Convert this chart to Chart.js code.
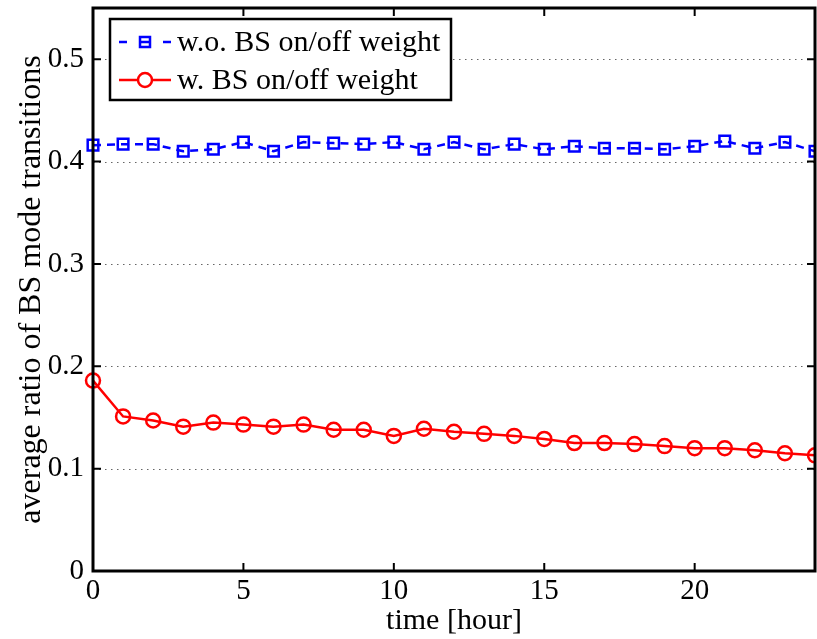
<!DOCTYPE html>
<html>
<head>
<meta charset="utf-8">
<script src="https://cdn.jsdelivr.net/npm/chart.js@4/dist/chart.umd.min.js"></script>
<style>
  html, body { margin: 0; padding: 0; background: #fff; }
  #wrap { width: 817px; height: 639px; }
</style>
</head>
<body>
<div id="wrap"><canvas id="chart" width="817" height="639"></canvas></div>
<script>
// hours 0..24
const hours = [0,1,2,3,4,5,6,7,8,9,10,11,12,13,14,15,16,17,18,19,20,21,22,23,24];
// without BS on/off weight
const woWeight = [0.416,0.417,0.417,0.410,0.412,0.419,0.410,0.419,0.418,0.417,0.419,0.412,0.419,
                  0.412,0.417,0.412,0.415,0.413,0.413,0.412,0.415,0.420,0.413,0.419,0.410];
// with BS on/off weight
const wWeight = [0.186,0.151,0.147,0.141,0.145,0.143,0.141,0.143,0.138,0.138,0.132,0.139,0.136,
                 0.134,0.132,0.129,0.125,0.125,0.124,0.122,0.120,0.120,0.118,0.115,0.113];
const seriesNames = ["w.o. BS on/off weight", "w. BS on/off weight"];
const yTicks = [0, 0.1, 0.2, 0.3, 0.4, 0.5];
const xTicks = [0, 5, 10, 15, 20];

const serif = "'Liberation Serif', 'Times New Roman', serif";
const BLUE = "#0000ff";
const RED = "#ff0000";

// 枠・点線グリッド・内向きの目盛り
const framePlugin = {
  id: "frame",
  beforeDatasetsDraw(chart) {
    const { ctx, chartArea: a, scales: { y } } = chart;
    ctx.save();
    ctx.strokeStyle = "#666";
    ctx.lineWidth = 1.2;
    ctx.setLineDash([1.5, 4.5]);
    yTicks.slice(1).forEach((v) => {
      const py = Math.round(y.getPixelForValue(v)) + 0.5;
      ctx.beginPath();
      ctx.moveTo(a.left, py);
      ctx.lineTo(a.right, py);
      ctx.stroke();
    });
    ctx.restore();
  },
  afterDatasetsDraw(chart) {
    const { ctx, chartArea: a, scales: { x, y } } = chart;
    ctx.save();
    ctx.strokeStyle = "#000";
    ctx.lineWidth = 2;
    const tl = 8;
    yTicks.forEach((v) => {
      const py = y.getPixelForValue(v);
      ctx.beginPath();
      ctx.moveTo(a.left, py); ctx.lineTo(a.left + tl, py);
      ctx.moveTo(a.right, py); ctx.lineTo(a.right - tl, py);
      ctx.stroke();
    });
    xTicks.forEach((v) => {
      const px = x.getPixelForValue(v);
      ctx.beginPath();
      ctx.moveTo(px, a.bottom); ctx.lineTo(px, a.bottom - tl);
      ctx.moveTo(px, a.top); ctx.lineTo(px, a.top + tl);
      ctx.stroke();
    });
    ctx.lineWidth = 3;
    ctx.strokeRect(a.left, a.top, a.right - a.left, a.bottom - a.top);
    ctx.restore();
  },
};

// 凡例（プロット内左上）
const legendPlugin = {
  id: "innerLegend",
  afterDraw(chart) {
    const { ctx } = chart;
    const bx = 110, by = 19, bw = 341, bh = 81;
    ctx.save();
    ctx.fillStyle = "#fff";
    ctx.fillRect(bx, by, bw, bh);
    ctx.strokeStyle = "#000";
    ctx.lineWidth = 2.5;
    ctx.strokeRect(bx, by, bw, bh);

    const rows = [42, 80];
    // blue dashed + square
    ctx.strokeStyle = BLUE;
    ctx.lineWidth = 2.5;
    ctx.beginPath();
    ctx.moveTo(119, rows[0]); ctx.lineTo(127, rows[0]);
    ctx.moveTo(163, rows[0]); ctx.lineTo(171, rows[0]);
    ctx.stroke();
    ctx.strokeRect(140, rows[0] - 5, 10, 10);
    ctx.beginPath();
    ctx.moveTo(140, rows[0]); ctx.lineTo(150, rows[0]);
    ctx.stroke();
    // red solid + circle
    ctx.strokeStyle = RED;
    ctx.beginPath();
    ctx.moveTo(119, rows[1]); ctx.lineTo(171, rows[1]);
    ctx.stroke();
    ctx.fillStyle = "#fff";
    ctx.beginPath();
    ctx.arc(145, rows[1], 7, 0, Math.PI * 2);
    ctx.fill();
    ctx.stroke();

    ctx.fillStyle = "#000";
    ctx.font = "30px " + serif;
    ctx.textBaseline = "middle";
    ctx.fillText(seriesNames[0], 177, rows[0] + 1);
    ctx.fillText(seriesNames[1], 177, rows[1] + 1);
    ctx.restore();
  },
};

new Chart(document.getElementById("chart"), {
  type: "line",
  data: {
    labels: hours,
    datasets: [
      {
        label: seriesNames[0],
        data: hours.map((h, i) => ({ x: h, y: woWeight[i] })),
        borderColor: BLUE,
        borderWidth: 2.5,
        borderDash: [8, 6],
        pointStyle: "rect",
        pointRadius: 7.5,
        pointBorderWidth: 2.5,
        pointBorderColor: BLUE,
        pointBackgroundColor: "rgba(0,0,0,0)",
        fill: false,
        tension: 0,
        clip: { left: 10, top: 0, right: 0, bottom: 0 },
      },
      {
        label: seriesNames[1],
        data: hours.map((h, i) => ({ x: h, y: wWeight[i] })),
        borderColor: RED,
        borderWidth: 2.5,
        pointStyle: "circle",
        pointRadius: 7,
        pointBorderWidth: 2.5,
        pointBorderColor: RED,
        pointBackgroundColor: "rgba(0,0,0,0)",
        fill: false,
        tension: 0,
        clip: { left: 10, top: 0, right: 0, bottom: 0 },
      },
    ],
  },
  options: {
    responsive: false,
    animation: false,
    layout: { autoPadding: false, padding: { top: 8, right: 2, left: 0, bottom: 0 } },
    plugins: {
      legend: { display: false },
      tooltip: { enabled: false },
    },
    scales: {
      x: {
        type: "linear",
        min: 0,
        max: 24,
        grid: { display: false, drawTicks: false },
        border: { display: false },
        afterFit: (s) => {
          s.height = 68;
          s.paddingLeft = 0;
          s.paddingRight = 0;
        },
        afterBuildTicks: (s) => { s.ticks = xTicks.map((v) => ({ value: v })); },
        ticks: {
          color: "#000",
          padding: 3,
          maxRotation: 0,
          font: { family: serif, size: 29 },
        },
        title: {
          display: true,
          text: "time [hour]",
          color: "#000",
          font: { family: serif, size: 30 },
          padding: { top: 0, bottom: 0 },
        },
      },
      y: {
        min: 0,
        max: 0.55,
        grid: { display: false, drawTicks: false },
        border: { display: false },
        afterFit: (s) => {
          s.width = 93;
          s.paddingTop = 0;
          s.paddingBottom = 0;
        },
        afterBuildTicks: (s) => { s.ticks = yTicks.map((v) => ({ value: v })); },
        ticks: {
          color: "#000",
          padding: 9,
          font: { family: serif, size: 29 },
          callback: (v) => (v === 0 ? "0" : v.toFixed(1)),
        },
        title: {
          display: true,
          text: "average ratio of BS mode transitions",
          color: "#000",
          font: { family: serif, size: 32 },
          padding: { top: 12, bottom: 0 },
        },
      },
    },
  },
  plugins: [framePlugin, legendPlugin],
});
</script>
</body>
</html>
